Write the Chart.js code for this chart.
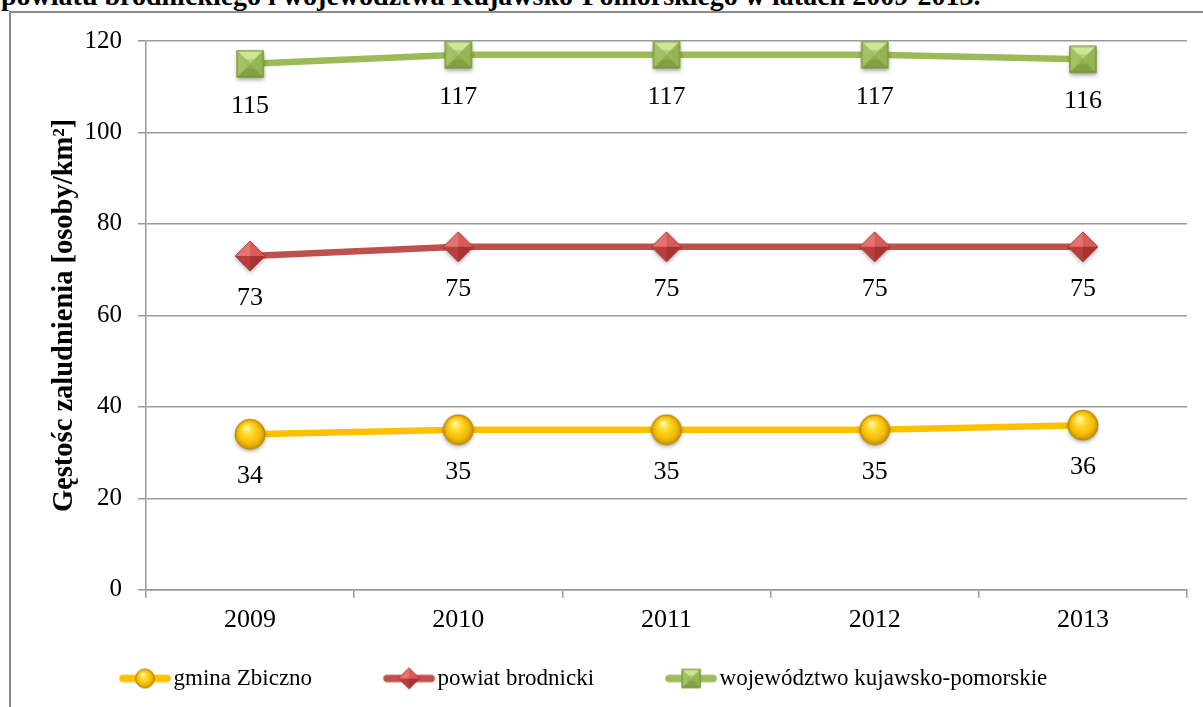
<!DOCTYPE html>
<html>
<head>
<meta charset="utf-8">
<script src="https://cdn.jsdelivr.net/npm/chart.js@4.4.1/dist/chart.umd.min.js"></script>
<style>
  html, body { margin: 0; padding: 0; background: #fff; width: 1203px; height: 707px; overflow: hidden; position: relative; }
  #title { position: absolute; left: 1px; top: -18px; font: bold 28px 'Liberation Serif', 'Times New Roman', serif; line-height: 28px; white-space: nowrap; color: #000; }
  #frame { position: absolute; left: 9px; top: 11px; width: 1300px; height: 800px; border: 2px solid #8c8c8c; box-sizing: border-box; }
  #c { position: absolute; left: 0; top: -3px; }
</style>
</head>
<body>
<div id="title">powiatu brodnickiego i województwa Kujawsko-Pomorskiego w latach 2009-2013.</div>
<div id="frame"><canvas id="c" width="1192" height="697"></canvas></div>
<script>
const categories = ['2009', '2010', '2011', '2012', '2013'];
const gminaZbiczno = [34, 35, 35, 35, 36];
const powiatBrodnicki = [73, 75, 75, 75, 75];
const wojewodztwo = [115, 117, 117, 117, 116];
const seriesNames = ['gmina Zbiczno', 'powiat brodnicki', 'województwo kujawsko-pomorskie'];
const yTicks = [0, 20, 40, 60, 80, 100, 120];
const yTitle = 'Gęstośc zaludnienia [osoby/km²]';

const SERIF = "'Liberation Serif', 'Times New Roman', serif";
const colors = ['#FFC000', '#C0504D', '#9BBB59'];

function makeCanvas(w, h) { const c = document.createElement('canvas'); c.width = w; c.height = h; return c; }

function drawSphere(ctx, cx, cy, r, shadow) {
  ctx.save();
  if (shadow) { ctx.shadowColor = 'rgba(0,0,0,0.35)'; ctx.shadowBlur = 4; ctx.shadowOffsetY = 2; }
  ctx.beginPath(); ctx.arc(cx, cy, r, 0, Math.PI * 2); ctx.fillStyle = '#E0A800'; ctx.fill();
  ctx.restore();
  const g = ctx.createRadialGradient(cx - r * 0.25, cy - r * 0.45, r * 0.05, cx, cy, r);
  g.addColorStop(0, '#FFF8B0'); g.addColorStop(0.3, '#FFDD33'); g.addColorStop(0.75, '#F5BA00'); g.addColorStop(1, '#C38E00');
  ctx.beginPath(); ctx.arc(cx, cy, r, 0, Math.PI * 2); ctx.fillStyle = g; ctx.fill();
  ctx.lineWidth = 0.8; ctx.strokeStyle = '#B08000'; ctx.stroke();
}
function drawDiamond(ctx, cx, cy, r, shadow) {
  ctx.save();
  if (shadow) { ctx.shadowColor = 'rgba(0,0,0,0.35)'; ctx.shadowBlur = 4; ctx.shadowOffsetY = 2; }
  ctx.beginPath(); ctx.moveTo(cx, cy - r); ctx.lineTo(cx + r, cy); ctx.lineTo(cx, cy + r); ctx.lineTo(cx - r, cy); ctx.closePath();
  ctx.fillStyle = '#C0504D'; ctx.fill();
  ctx.restore();
  const faces = [
    [[cx, cy - r], [cx - r, cy], '#E7716C'],
    [[cx, cy - r], [cx + r, cy], '#D95B56'],
    [[cx, cy + r], [cx + r, cy], '#A8322F'],
    [[cx, cy + r], [cx - r, cy], '#B83F3B']
  ];
  faces.forEach(f => { ctx.beginPath(); ctx.moveTo(cx, cy); ctx.lineTo(f[0][0], f[0][1]); ctx.lineTo(f[1][0], f[1][1]); ctx.closePath(); ctx.fillStyle = f[2]; ctx.fill(); });
  ctx.beginPath(); ctx.moveTo(cx, cy - r); ctx.lineTo(cx + r, cy); ctx.lineTo(cx, cy + r); ctx.lineTo(cx - r, cy); ctx.closePath();
  ctx.lineWidth = 0.8; ctx.strokeStyle = '#9A3330'; ctx.stroke();
}
function drawSquare(ctx, cx, cy, h, shadow) {
  ctx.save();
  if (shadow) { ctx.shadowColor = 'rgba(0,0,0,0.35)'; ctx.shadowBlur = 4; ctx.shadowOffsetY = 2; }
  ctx.fillStyle = '#9BBB59'; ctx.fillRect(cx - h, cy - h, 2 * h, 2 * h);
  ctx.restore();
  const i = h * 0.35;
  const tl = [cx - h, cy - h], tr = [cx + h, cy - h], br = [cx + h, cy + h], bl = [cx - h, cy + h];
  const faces = [[tl, tr, '#CFE59A'], [tr, br, '#95B552'], [br, bl, '#82A143'], [bl, tl, '#A3C262']];
  faces.forEach(f => { ctx.beginPath(); ctx.moveTo(cx, cy); ctx.lineTo(f[0][0], f[0][1]); ctx.lineTo(f[1][0], f[1][1]); ctx.closePath(); ctx.fillStyle = f[2]; ctx.fill(); });
  ctx.fillStyle = 'rgba(155,187,89,0.55)'; ctx.fillRect(cx - i, cy - i, 2 * i, 2 * i);
  ctx.lineWidth = 1; ctx.strokeStyle = '#6F8C38'; ctx.strokeRect(cx - h + 0.5, cy - h + 0.5, 2 * h - 1, 2 * h - 1);
}
const drawers = [drawSphere, drawDiamond, drawSquare];
const markerSizes = [15, 15, 13.5];
const legendSizes = [9.5, 10.5, 9.5];

function markerImage(k) {
  const s = 40; const c = makeCanvas(s, s); const ctx = c.getContext('2d');
  drawers[k](ctx, s / 2, s / 2, markerSizes[k], true);
  return c;
}
function legendIcon(k) {
  const w = 52, h = 26; const c = makeCanvas(w, h); const ctx = c.getContext('2d');
  ctx.strokeStyle = colors[k]; ctx.lineWidth = 7.5; ctx.lineCap = 'round';
  ctx.beginPath(); ctx.moveTo(4, h / 2); ctx.lineTo(w - 4, h / 2); ctx.stroke();
  drawers[k](ctx, w / 2, h / 2, legendSizes[k], false);
  return c;
}
const pointImgs = [0, 1, 2].map(markerImage);
const legendIcons = [0, 1, 2].map(legendIcon);

const seriesData = [gminaZbiczno, powiatBrodnicki, wojewodztwo];

const dataLabels = {
  id: 'dataLabels',
  afterDatasetsDraw(chart) {
    const ctx = chart.ctx;
    ctx.save();
    ctx.font = '26px ' + SERIF;
    ctx.fillStyle = '#000';
    ctx.textAlign = 'center';
    ctx.textBaseline = 'middle';
    chart.data.datasets.forEach((ds, di) => {
      const meta = chart.getDatasetMeta(di);
      meta.data.forEach((el, i) => {
        ctx.fillText(String(ds.data[i]), el.x, el.y + 42);
      });
    });
    ctx.restore();
  }
};

// keep wide horizontal spacing between legend items without tall vertical padding
const legendSpacing = {
  id: 'legendSpacing',
  beforeUpdate(chart) {
    if (chart.legend) chart.legend._computeTitleHeight = () => -56;
  }
};

new Chart(document.getElementById('c'), {
  type: 'line',
  data: {
    labels: categories,
    datasets: seriesData.map((d, k) => ({
      label: seriesNames[k],
      data: d,
      borderColor: colors[k],
      backgroundColor: colors[k],
      borderWidth: 6.5,
      borderCapStyle: 'round',
      borderJoinStyle: 'round',
      tension: 0,
      pointStyle: pointImgs[k],
      pointRadius: 15,
      fill: false
    }))
  },
  options: {
    responsive: false,
    devicePixelRatio: 1,
    animation: false,
    layout: { autoPadding: false, padding: { left: 37, right: 16, top: 28, bottom: 7 } },
    plugins: {
      tooltip: { enabled: false },
      title: { display: false },
      legend: {
        position: 'bottom',
        align: 'start',
        labels: {
          usePointStyle: true,
          pointStyleWidth: 34,
          boxHeight: 23,
          padding: 80,
          color: '#000',
          font: { family: SERIF, size: 23 },
          generateLabels(chart) {
            return chart.data.datasets.map((ds, i) => ({
              text: ds.label, pointStyle: legendIcons[i], datasetIndex: i,
              fillStyle: ds.borderColor, strokeStyle: ds.borderColor, lineWidth: 0, hidden: false, fontColor: '#000'
            }));
          }
        }
      }
    },
    scales: {
      x: {
        offset: true,
        grid: { display: true, drawOnChartArea: false, drawTicks: true, tickLength: 8, color: '#9a9a9a', lineWidth: 1.5, offset: true },
        border: { display: true, color: '#9a9a9a', width: 1.5 },
        ticks: { color: '#000', font: { family: SERIF, size: 26 }, padding: 7 }
      },
      y: {
        min: 0, max: 120,
        afterBuildTicks(axis) { axis.ticks = yTicks.map(v => ({ value: v })); },
        afterFit(scale) { scale.width = 98; },
        grid: { color: '#9a9a9a', lineWidth: 1.5, tickLength: 8, drawTicks: true },
        border: { display: true, color: '#9a9a9a', width: 1.5 },
        ticks: { color: '#000', font: { family: SERIF, size: 25 }, padding: 16 },
        title: { display: true, text: yTitle, color: '#000', font: { family: SERIF, size: 28.5, weight: 'bold' }, padding: { top: 0, bottom: 0 } }
      }
    }
  },
  plugins: [dataLabels, legendSpacing]
});
</script>
</body>
</html>
